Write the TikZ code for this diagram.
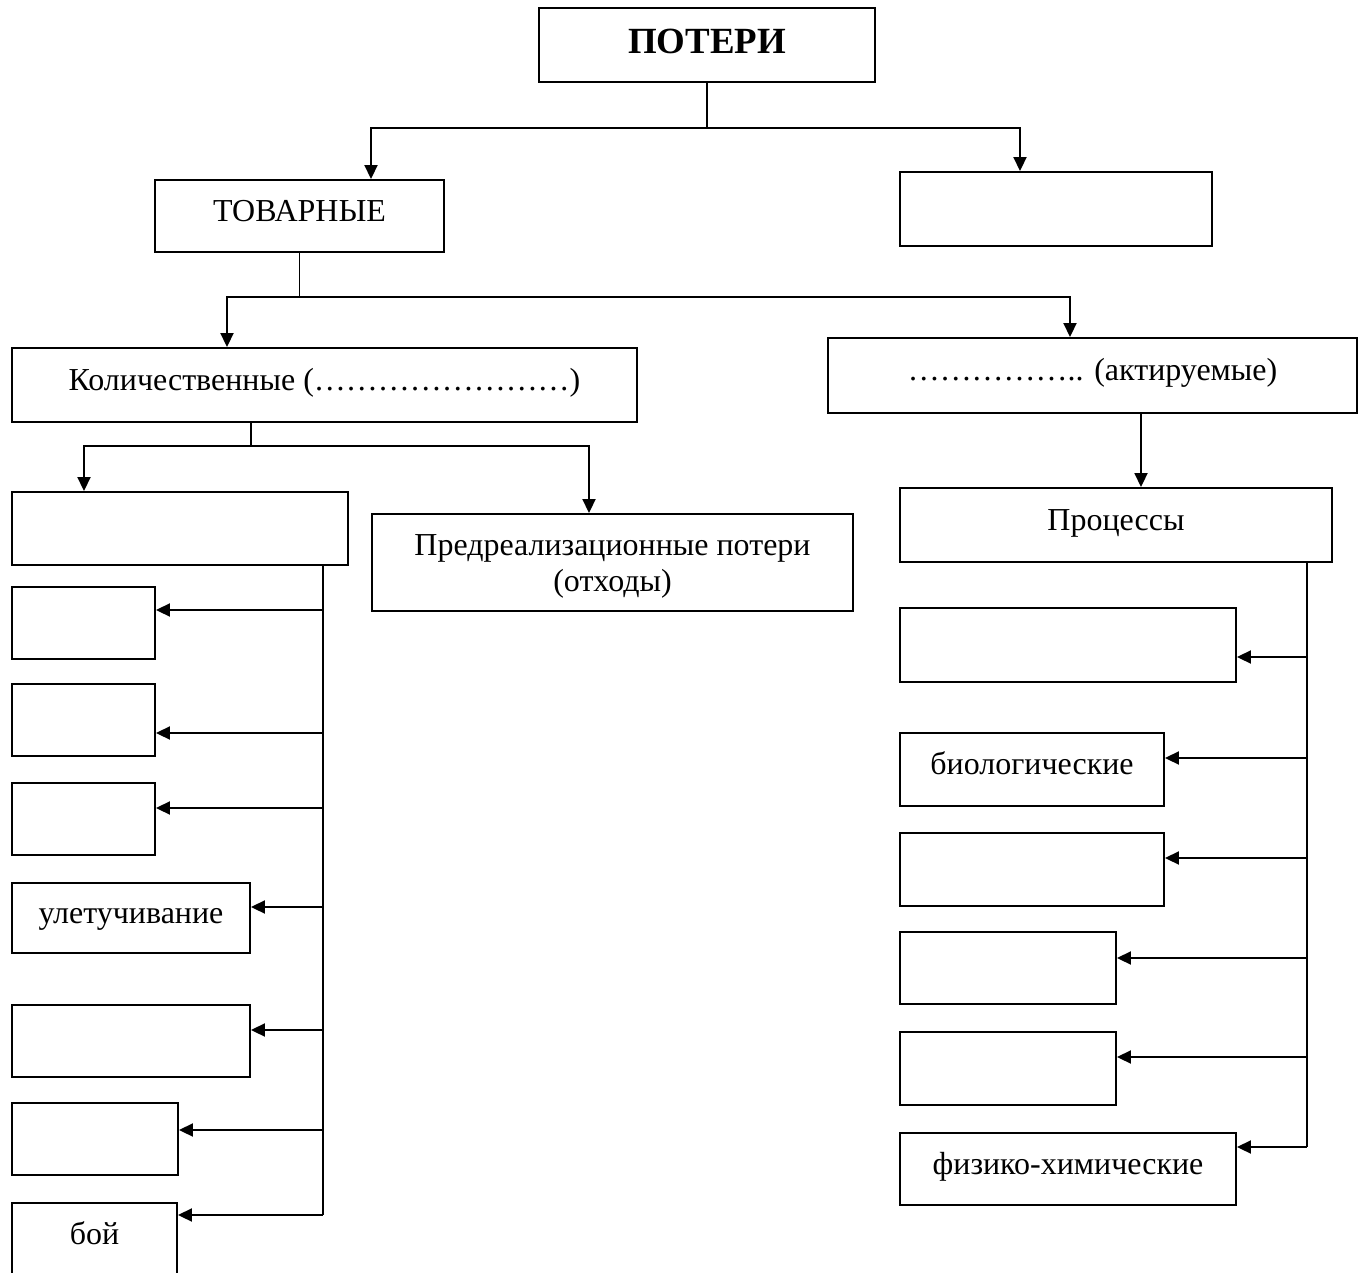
\documentclass[tikz,border=0pt]{standalone}
\usepackage{fontspec}
\setmainfont{Liberation Serif}
\usetikzlibrary{arrows.meta,calc}

\tikzset{
  box/.style={draw, line width=1.1pt, inner sep=0pt, text height=12pt, text depth=5.8pt,
    font=\fontsize{18.2}{20}\selectfont},
  arr/.style={line width=1.1pt, -{Triangle[length=0.28cm,width=0.26cm]}},
  link/.style={line width=1.1pt}
}

\begin{document}
\begin{tikzpicture}[x=0.02cm,y=-0.02cm]
  \useasboundingbox (0,0) rectangle (1365,1273);
  \clip (0,0) rectangle (1365,1273);

  % Top levels
  \node[box, minimum width=6.72cm, minimum height=1.48cm, text height=15pt, text depth=4.8pt,
    font=\fontsize{21}{24}\selectfont\bfseries] (poteri) at (707,45) {ПОТЕРИ};
  \node[box, minimum width=5.78cm, minimum height=1.44cm] (tovar) at (299.5,216) {ТОВАРНЫЕ};
  \node[box, minimum width=6.24cm, minimum height=1.48cm] (right1) at (1056,209) {};
  \node[box, minimum width=12.5cm, minimum height=1.48cm] (kolich) at (324.5,385) {Количественные (……………………)};
  \node[box, minimum width=10.58cm, minimum height=1.5cm] (aktir) at (1092.5,375.5) {…………….. (актируемые)};

  % Third level
  \node[box, minimum width=6.72cm, minimum height=1.46cm] (emptyL) at (180,528.5) {};
  \node[box, minimum width=9.62cm, minimum height=1.94cm, text height=, text depth=, align=center,
    font=\fontsize{18.2}{20.2}\selectfont] (predreal) at (612.5,562.5) {\rule{0pt}{16.5pt}Предреализационные потери\\(отходы)};
  \node[box, minimum width=8.64cm, minimum height=1.48cm] (proc) at (1116,525) {Процессы};

  % Left column
  \node[box, minimum width=2.86cm, minimum height=1.44cm] (L1) at (83.5,623) {};
  \node[box, minimum width=2.86cm, minimum height=1.44cm] (L2) at (83.5,720) {};
  \node[box, minimum width=2.86cm, minimum height=1.44cm] (L3) at (83.5,819) {};
  \node[box, minimum width=4.76cm, minimum height=1.40cm] (L4) at (131,918) {улетучивание};
  \node[box, minimum width=4.76cm, minimum height=1.44cm] (L5) at (131,1041) {};
  \node[box, minimum width=3.32cm, minimum height=1.44cm] (L6) at (95,1139) {};
  \node[box, minimum width=3.30cm, minimum height=1.44cm] (L7) at (94.5,1239) {бой};

  % Right column
  \node[box, minimum width=6.72cm, minimum height=1.48cm] (R1) at (1068,645) {};
  \node[box, minimum width=5.28cm, minimum height=1.46cm] (R2) at (1032,769.5) {биологические};
  \node[box, minimum width=5.28cm, minimum height=1.46cm] (R3) at (1032,869.5) {};
  \node[box, minimum width=4.32cm, minimum height=1.44cm] (R4) at (1008,968) {};
  \node[box, minimum width=4.32cm, minimum height=1.46cm] (R5) at (1008,1068.5) {};
  \node[box, minimum width=6.72cm, minimum height=1.44cm] (R6) at (1068,1169) {физико-химические};

  % Connectors
  \draw[link] (poteri.south) -- ++(0,45) coordinate (b1);
  \draw[arr] (b1) -| ($(tovar.north)+(71.5,0)$);
  \draw[arr] (b1) -| ($(right1.north)+(-36,0)$);

  \draw[link] (tovar.south) -- ++(0,44) coordinate (b2);
  \draw[arr] (b2) -| ($(kolich.north)+(-97.5,0)$);
  \draw[arr] (b2) -| ($(aktir.north)+(-22.5,0)$);

  \draw[link] ($(kolich.south)+(-73.5,0)$) -- ++(0,23) coordinate (b3);
  \draw[arr] (b3) -| ($(emptyL.north)+(-96,0)$);
  \draw[arr] (b3) -| ($(predreal.north)+(-23.5,0)$);

  \coordinate (a1) at ($(aktir.south)+(48.5,0)$);
  \draw[arr] (a1) -- (a1 |- proc.north);

  % Left spine
  \coordinate (ls) at ($(emptyL.south east)+(-26,0)$);
  \foreach \b/\dy in {L1/-13,L2/13,L3/-11,L4/-11,L5/-11,L6/-9,L7/-24} {
    \coordinate (a\b) at ($(\b.east)+(0,\dy)$);
    \draw[arr] (ls |- a\b) -- (a\b);
  }
  \draw[link] (ls) -- (ls |- aL7);

  % Right spine
  \coordinate (rs) at ($(proc.south east)+(-26,0)$);
  \foreach \b/\dy in {R1/12,R2/-11.5,R3/-11.5,R4/-10,R5/-11.5,R6/-22} {
    \coordinate (a\b) at ($(\b.east)+(0,\dy)$);
    \draw[arr] (rs |- a\b) -- (a\b);
  }
  \draw[link] (rs) -- (rs |- aR6);
\end{tikzpicture}
\end{document}
